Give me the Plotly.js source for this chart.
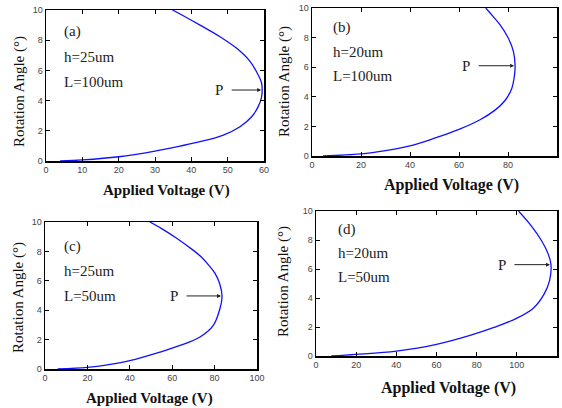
<!DOCTYPE html>
<html>
<head>
<meta charset="utf-8">
<script src="https://cdn.plot.ly/plotly-3.0.1.min.js"></script>
<style>html,body{margin:0;padding:0;background:#fff;}#chart{width:562px;height:408px;}</style>
</head>
<body>
<div id="chart"></div>
<script>
// ---- data ----
const a_voltage = [3.9, 10, 20, 30, 36.9, 42.4, 48.8, 53.4, 56.6, 58.4, 59.3, 59.5, 59.3, 58.4, 56.2, 52.5, 47.9, 42.4, 37.4, 34.8];
const a_angle   = [0, 0.07, 0.28, 0.66, 0.99, 1.28, 1.72, 2.27, 2.93, 3.6, 4.2, 4.7, 5.2, 5.7, 6.58, 7.46, 8.23, 9.0, 9.67, 10];

const b_voltage = [4.5, 20, 30, 40, 50, 60, 68.6, 74.7, 78.8, 81.5, 82.6, 82.9, 82.2, 80.1, 76.7, 72.7, 70.9];
const b_angle   = [0, 0.14, 0.36, 0.68, 1.2, 1.8, 2.45, 3.1, 3.75, 4.55, 5.4, 6.1, 7.07, 7.97, 8.87, 9.66, 10];

const c_voltage = [6, 20, 30, 40, 54.2, 63.7, 73.1, 79.4, 82.5, 83.5, 82.4, 80.2, 77, 73.5, 70, 62.1, 55, 49.5];
const c_angle   = [0, 0.11, 0.3, 0.57, 1.15, 1.6, 2.18, 2.97, 4.1, 4.97, 5.8, 6.5, 7.1, 7.65, 8.07, 8.9, 9.55, 10];

const d_voltage = [7.6, 20, 40, 60, 76.7, 88.3, 99.9, 108.2, 113.5, 116.3, 117, 115.7, 112.4, 106.6, 100.8];
const d_angle   = [0, 0.11, 0.34, 0.8, 1.42, 1.95, 2.6, 3.3, 4.25, 5.2, 6.3, 7.01, 7.93, 9.08, 10];

const panel_tags = ["(a)", "(b)", "(c)", "(d)"];
const panel_h = ["h=25um", "h=20um", "h=25um", "h=20um"];
const panel_L = ["L=100um", "L=100um", "L=50um", "L=50um"];
const x_max = [60, 100, 100, 120];
const x_dtick = [10, 20, 20, 20];
const x_title = "Applied Voltage (V)";
const y_title = "Rotation Angle (°)";

// ---- layout geometry (pixels in a 562x408 canvas) ----
const W = 562, H = 408;
const px = v => v / W;
const py = v => 1 - v / H;
const boxes = [
  {l: 46, r: 264, t: 10, b: 161},
  {l: 312, r: 557, t: 8, b: 156},
  {l: 45, r: 257, t: 222, b: 369},
  {l: 316, r: 557, t: 211, b: 356}
];
const series = [[a_voltage, a_angle], [b_voltage, b_angle], [c_voltage, c_angle], [d_voltage, d_angle]];

const serif = "'Liberation Serif', 'Times New Roman', 'DejaVu Serif', serif";
const sans = "'Liberation Sans', Arial, sans-serif";
const traces = [];
const layout = {
  width: W, height: H,
  margin: {l: 0, r: 0, t: 0, b: 0},
  paper_bgcolor: "#fff", plot_bgcolor: "#fff",
  showlegend: false,
  font: {family: serif},
  annotations: []
};

const xTitlePos = [{x: 166, y: 190, s: 15}, {x: 451, y: 185, s: 16}, {x: 150, y: 398, s: 15}, {x: 448, y: 388, s: 16}];
const yTitlePos = [{x: 20, y: 92, s: 15}, {x: 285, y: 82, s: 15}, {x: 18, y: 298, s: 15}, {x: 283, y: 282, s: 15}];
const tagPos = [
  {x: 62, y: [32, 57, 82]},
  {x: 331, y: [28, 52, 76]},
  {x: 62, y: [246, 271, 296]},
  {x: 336, y: [229, 253, 277]}
];
const pOffset = [-43, -49, -48, -49];

for (let i = 0; i < 4; i++) {
  const n = i === 0 ? "" : String(i + 1);
  const bx = boxes[i];
  const [vx, vy] = series[i];
  traces.push({
    x: vx, y: vy, type: "scatter", mode: "lines",
    xaxis: "x" + n, yaxis: "y" + n,
    line: {color: "#1010ff", width: 1.3, shape: "spline", smoothing: 1},
    hoverinfo: "skip"
  });
  const axCommon = {
    showgrid: false, zeroline: false, showline: true, linecolor: "#000", linewidth: 1.5,
    mirror: "ticks", ticks: "inside", ticklen: 4, tickcolor: "#000", tickwidth: 1,
    tickfont: {family: sans, size: 9, color: "#444"},
    fixedrange: true
  };
  layout["xaxis" + n] = Object.assign({}, axCommon, {
    domain: [px(bx.l), px(bx.r)], range: [0, x_max[i]], dtick: x_dtick[i], tick0: 0,
    anchor: "y" + n
  });
  layout["yaxis" + n] = Object.assign({}, axCommon, {
    domain: [py(bx.b), py(bx.t)], range: [0, 10], dtick: 2, tick0: 0,
    anchor: "x" + n
  });
  // axis titles
  layout.annotations.push({
    text: x_title, xref: "paper", yref: "paper",
    x: px(xTitlePos[i].x), y: py(xTitlePos[i].y), xanchor: "center", yanchor: "middle",
    showarrow: false, font: {family: serif, size: xTitlePos[i].s, color: "#111", weight: "bold"}
  });
  layout.annotations.push({
    text: y_title, xref: "paper", yref: "paper", textangle: -90,
    x: px(yTitlePos[i].x), y: py(yTitlePos[i].y), xanchor: "center", yanchor: "middle",
    showarrow: false, font: {family: serif, size: yTitlePos[i].s, color: "#111"}
  });
  // panel texts
  const tl = [panel_tags[i], panel_h[i], panel_L[i]];
  for (let k = 0; k < 3; k++) {
    layout.annotations.push({
      text: tl[k], xref: "paper", yref: "paper",
      x: px(tagPos[i].x), y: py(tagPos[i].y[k]), xanchor: "left", yanchor: "middle",
      showarrow: false, font: {family: serif, size: 15, color: "#222"}
    });
  }
  // P arrow pointing at the turning point (max voltage)
  let im = 0;
  for (let j = 1; j < vx.length; j++) if (vx[j] > vx[im]) im = j;
  layout.annotations.push({
    text: "P", xref: "x" + n, yref: "y" + n, x: vx[im], y: vy[im],
    ax: pOffset[i], ay: 0, showarrow: true, arrowhead: 2, arrowsize: 0.8, arrowwidth: 1,
    arrowcolor: "#222", borderpad: 8, standoff: 1,
    font: {family: serif, size: 15, color: "#222"}
  });
}

Plotly.newPlot("chart", traces, layout, {displayModeBar: false, staticPlot: true});
</script>
</body>
</html>
